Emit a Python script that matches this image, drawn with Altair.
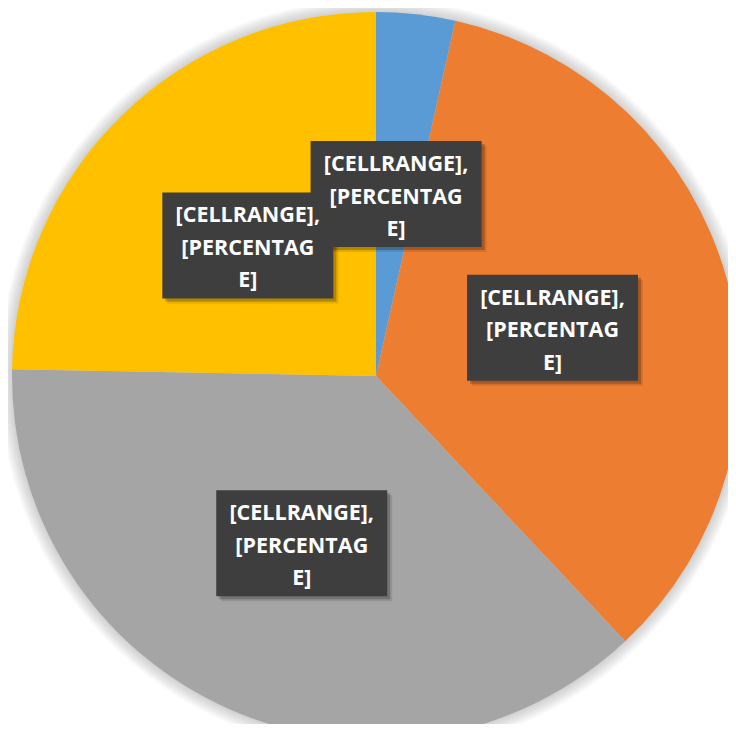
import altair as alt
import pandas as pd

categories = ["A", "B", "C", "D"]
values = [3.5, 34.5, 37.3, 24.7]
colors = ["#5B9BD5", "#ED7D31", "#A5A5A5", "#FFC000"]
label_lines = ["[CELLRANGE],", "[PERCENTAG", "E]"]

df = pd.DataFrame({
    "cat": categories,
    "value": values,
    "order": list(range(len(categories))),
    "label": [label_lines] * len(categories),
})

W, H = 720, 716
CX, CY = 368, 368
R = 364
LR = 183
BW, BH = 171, 106

enc_center = dict(x=alt.value(CX), y=alt.value(CY))

# soft glow around the pie
glow_layers = []
for k in range(1, 9):
    glow_layers.append(
        alt.Chart(df).mark_arc(radius=R + 1.6 * k, color="#7a7a7a", opacity=0.045, stroke=None)
        .encode(theta=alt.Theta("value:Q", stack=True), **enc_center)
    )

pie = alt.Chart(df).mark_arc(radius=R, stroke=None).encode(
    theta=alt.Theta("value:Q", stack=True),
    order=alt.Order("order:Q"),
    color=alt.Color("cat:N", scale=alt.Scale(domain=categories, range=colors), legend=None),
    **enc_center,
)

base = alt.Chart(df).transform_joinaggregate(
    total="sum(value)"
).transform_window(
    cum="sum(value)", sort=[alt.SortField("order")], frame=[None, 0]
).transform_calculate(
    mid="(datum.cum - datum.value/2)/datum.total*2*PI",
).transform_calculate(
    cx=f"{CX} + {LR}*sin(datum.mid)",
    cy=f"{CY} - {LR}*cos(datum.mid)",
).transform_calculate(
    x1=f"datum.cx - {BW/2}", x2=f"datum.cx + {BW/2}",
    y1=f"datum.cy - {BH/2}", y2=f"datum.cy + {BH/2}",
)

def box_layer(dx, dy, color, opacity):
    return base.transform_calculate(
        bx1=f"datum.x1 + {dx}", bx2=f"datum.x2 + {dx}",
        by1=f"datum.y1 + {dy}", by2=f"datum.y2 + {dy}",
    ).mark_rect(color=color, opacity=opacity).encode(
        x=alt.X("bx1:Q", scale=None, axis=None),
        x2="bx2:Q",
        y=alt.Y("by1:Q", scale=None, axis=None),
        y2="by2:Q",
    )

box_shadow1 = box_layer(5, 5, "#000000", 0.10)
box_shadow2 = box_layer(3, 3, "#000000", 0.22)
box = box_layer(0, 0, "#3e3e3e", 1.0)

text = base.mark_text(
    font="Open Sans", fontWeight="bold", fontSize=21.5, color="white",
    align="center", baseline="middle", lineHeight=32.5, dy=-29,
).encode(
    x=alt.X("cx:Q", scale=None, axis=None),
    y=alt.Y("cy:Q", scale=None, axis=None),
    text="label",
)

chart = alt.layer(*glow_layers, pie, box_shadow1, box_shadow2, box, text).properties(
    width=W, height=H, padding=0, autosize=alt.AutoSizeParams(type="none"),
    background="white",
).configure_view(stroke=None)

chart.save("out.html", embed_options={"renderer": "svg", "actions": False})
